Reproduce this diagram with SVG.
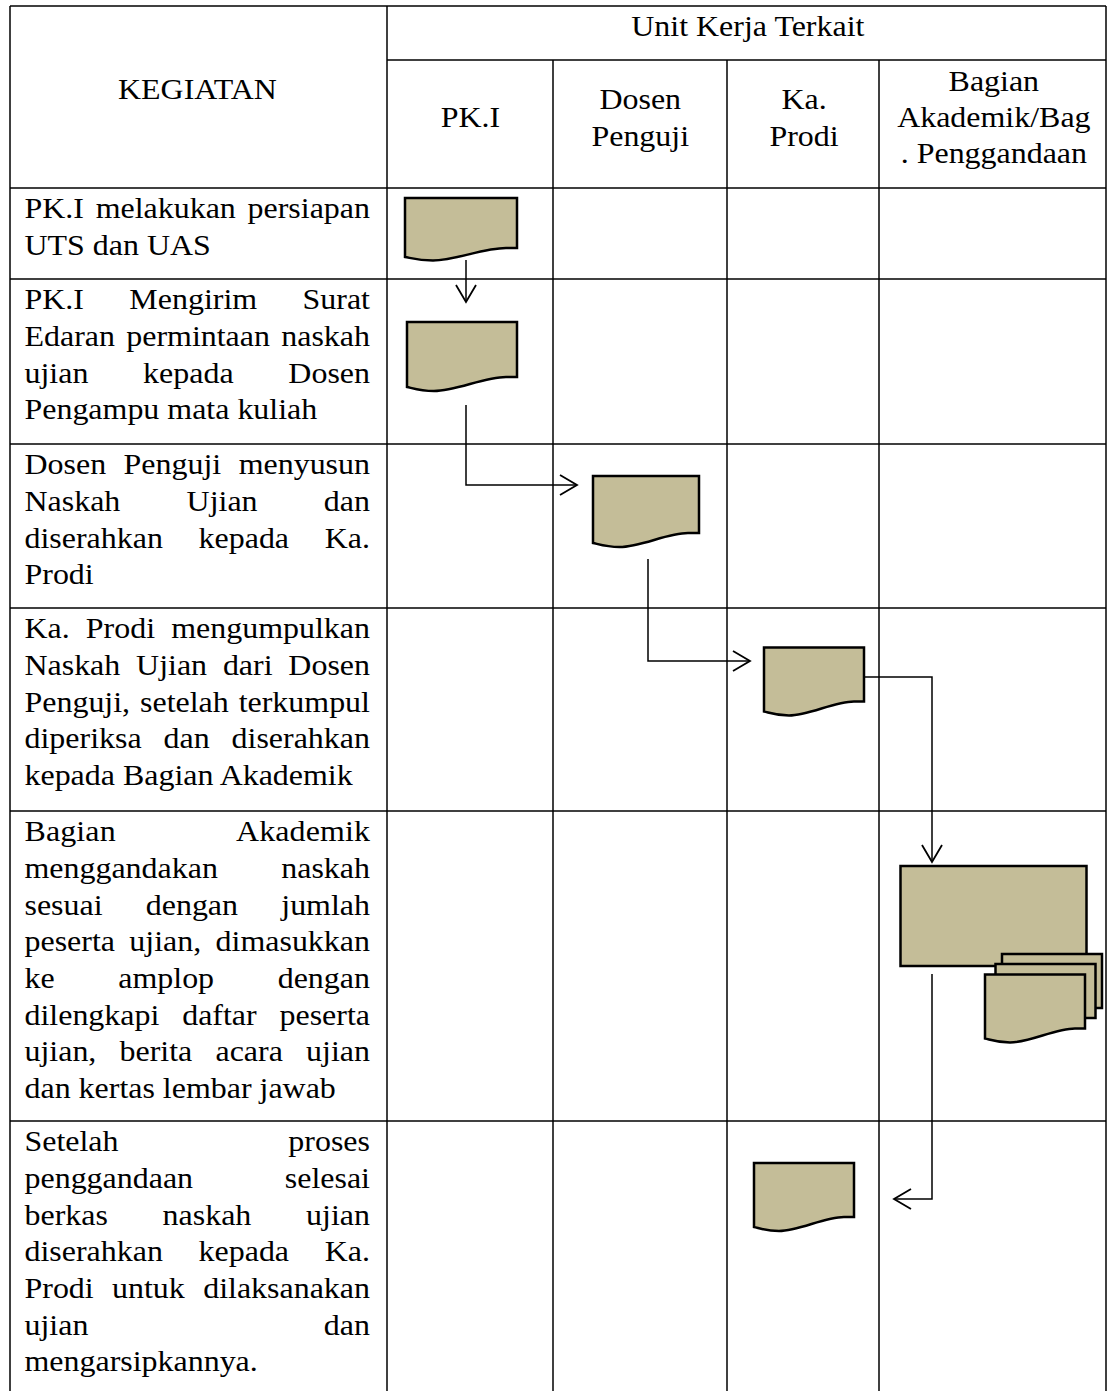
<svg xmlns="http://www.w3.org/2000/svg" width="1109" height="1391" viewBox="0 0 1109 1391">
<style>
.t{font-family:"Liberation Serif","Times New Roman",serif;font-size:30px;fill:#000}
.c{text-anchor:middle}
.grid line{stroke:#000;stroke-width:1.5}
.doc{fill:#c4bd98;stroke:#000;stroke-width:2.5;stroke-linejoin:miter}
.conn{fill:none;stroke:#000;stroke-width:1.5}
</style>
<defs>
<marker id="arr" markerUnits="userSpaceOnUse" markerWidth="22" markerHeight="26" viewBox="0 0 22 26" refX="19" refY="13" orient="auto">
<path d="M2,3 L19,13 L2,23" fill="none" stroke="#000" stroke-width="1.8"/>
</marker>
<path id="doc100" d="M0,0 H100 V54 H90 C70,54 45,68 25,68 C12,68 5,65 0,64 Z"/>
</defs>
<rect x="0" y="0" width="1109" height="1391" fill="#fff"/>
<g id="table" class="grid">
<line x1="10" y1="6" x2="1106" y2="6"/>
<line x1="10" y1="6" x2="10" y2="1391"/>
<line x1="1106" y1="6" x2="1106" y2="1391"/>
<line x1="387" y1="6" x2="387" y2="1391"/>
<line x1="387" y1="60" x2="1106" y2="60"/>
<line x1="553" y1="60" x2="553" y2="1391"/>
<line x1="727" y1="60" x2="727" y2="1391"/>
<line x1="879" y1="60" x2="879" y2="1391"/>
<line x1="10" y1="188" x2="1106" y2="188"/>
<line x1="10" y1="279" x2="1106" y2="279"/>
<line x1="10" y1="444" x2="1106" y2="444"/>
<line x1="10" y1="608" x2="1106" y2="608"/>
<line x1="10" y1="811" x2="1106" y2="811"/>
<line x1="10" y1="1121" x2="1106" y2="1121"/>
</g>
<g id="header" class="t c" transform="scale(1.065 1)">
<text x="185.4" y="99">KEGIATAN</text>
<text x="702.2" y="36">Unit Kerja Terkait</text>
<text x="441.8" y="127">PK.I</text>
<text x="601.2" y="109">Dosen</text>
<text x="601.2" y="146">Penguji</text>
<text x="755" y="109">Ka.</text>
<text x="755" y="146">Prodi</text>
<text x="933.2" y="91">Bagian</text>
<text x="933.2" y="127">Akademik/Bag</text>
<text x="933.2" y="163">. Penggandaan</text>
</g>
<g id="kegiatan" class="t" transform="scale(1.065 1)">
<text x="23" y="218" style="word-spacing:3.5px" textLength="324.4" lengthAdjust="spacing">PK.I melakukan persiapan</text>
<text x="23" y="255">UTS dan UAS</text>
<text x="23" y="309" style="word-spacing:35.1px" textLength="324.4" lengthAdjust="spacing">PK.I Mengirim Surat</text>
<text x="23" y="346" style="word-spacing:3.1px" textLength="324.4" lengthAdjust="spacing">Edaran permintaan naskah</text>
<text x="23" y="383" style="word-spacing:43.9px" textLength="324.4" lengthAdjust="spacing">ujian kepada Dosen</text>
<text x="23" y="419">Pengampu mata kuliah</text>
<text x="23" y="474" style="word-spacing:8.9px" textLength="324.4" lengthAdjust="spacing">Dosen Penguji menyusun</text>
<text x="23" y="511" style="word-spacing:54.7px" textLength="324.4" lengthAdjust="spacing">Naskah Ujian dan</text>
<text x="23" y="548" style="word-spacing:26px" textLength="324.4" lengthAdjust="spacing">diserahkan kepada Ka.</text>
<text x="23" y="584">Prodi</text>
<text x="23" y="638" style="word-spacing:7.6px" textLength="324.4" lengthAdjust="spacing">Ka. Prodi mengumpulkan</text>
<text x="23" y="675" style="word-spacing:7.4px" textLength="324.4" lengthAdjust="spacing">Naskah Ujian dari Dosen</text>
<text x="23" y="712" style="word-spacing:1.8px" textLength="324.4" lengthAdjust="spacing">Penguji, setelah terkumpul</text>
<text x="23" y="748" style="word-spacing:13.1px" textLength="324.4" lengthAdjust="spacing">diperiksa dan diserahkan</text>
<text x="23" y="785">kepada Bagian Akademik</text>
<text x="23" y="841" style="word-spacing:106.9px" textLength="324.4" lengthAdjust="spacing">Bagian Akademik</text>
<text x="23" y="878" style="word-spacing:52px" textLength="324.4" lengthAdjust="spacing">menggandakan naskah</text>
<text x="23" y="915" style="word-spacing:33.1px" textLength="324.4" lengthAdjust="spacing">sesuai dengan jumlah</text>
<text x="23" y="951" style="word-spacing:6px" textLength="324.4" lengthAdjust="spacing">peserta ujian, dimasukkan</text>
<text x="23" y="988" style="word-spacing:52.2px" textLength="324.4" lengthAdjust="spacing">ke amplop dengan</text>
<text x="23" y="1025" style="word-spacing:13.9px" textLength="324.4" lengthAdjust="spacing">dilengkapi daftar peserta</text>
<text x="23" y="1061" style="word-spacing:14.3px" textLength="324.4" lengthAdjust="spacing">ujian, berita acara ujian</text>
<text x="23" y="1098">dan kertas lembar jawab</text>
<text x="23" y="1151" style="word-spacing:151.9px" textLength="324.4" lengthAdjust="spacing">Setelah proses</text>
<text x="23" y="1188" style="word-spacing:78.6px" textLength="324.4" lengthAdjust="spacing">penggandaan selesai</text>
<text x="23" y="1225" style="word-spacing:43.9px" textLength="324.4" lengthAdjust="spacing">berkas naskah ujian</text>
<text x="23" y="1261" style="word-spacing:26px" textLength="324.4" lengthAdjust="spacing">diserahkan kepada Ka.</text>
<text x="23" y="1298" style="word-spacing:9.7px" textLength="324.4" lengthAdjust="spacing">Prodi untuk dilaksanakan</text>
<text x="23" y="1335" style="word-spacing:213.6px" textLength="324.4" lengthAdjust="spacing">ujian dan</text>
<text x="23" y="1371">mengarsipkannya.</text>
</g>
<g id="connectors" class="conn">
<path d="M466,260 V302" marker-end="url(#arr)"/>
<path d="M466,405 V485 H577" marker-end="url(#arr)"/>
<path d="M648,559 V661 H750" marker-end="url(#arr)"/>
<path d="M863,677 H932 V862" marker-end="url(#arr)"/>
<path d="M932,974 V1199 H894" marker-end="url(#arr)"/>
</g>
<g id="doc1"><path class="doc" d="M405,198 H517 V248 H506 C483,248 455,260.5 433,260.5 C418,260.5 411,258 405,257 Z"/></g>
<g id="doc2"><path class="doc" d="M407,322 H517 V377 H506 C484,377 456,391 434,391 C420,391 412,388 407,387 Z"/></g>
<g id="doc3"><path class="doc" d="M593,476 H699 V533 H688 C667,533 641,547 619.5,547 C606,547 598,544 593,543 Z"/></g>
<g id="doc4"><use href="#doc100" class="doc" transform="translate(764,647.5)"/></g>
<g id="process5"><rect class="doc" x="900.5" y="866" width="186" height="100"/></g>
<g id="multidoc5">
<use href="#doc100" class="doc" transform="translate(1002,954)"/>
<use href="#doc100" class="doc" transform="translate(995.5,964)"/>
<use href="#doc100" class="doc" transform="translate(985,974.5)"/>
</g>
<g id="doc6"><use href="#doc100" class="doc" transform="translate(754,1163)"/></g>
</svg>
